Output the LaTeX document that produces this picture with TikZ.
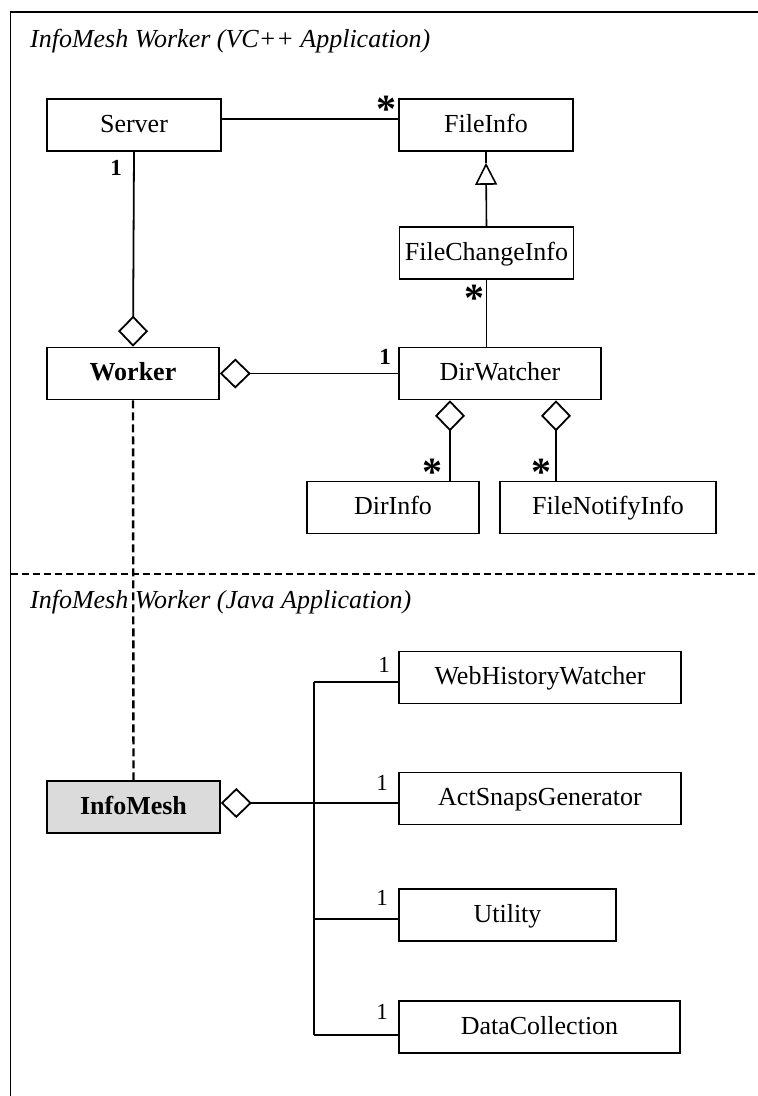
\documentclass[tikz,border=0pt]{standalone}
\usepackage{fontspec}
\setmainfont{Liberation Serif}
\usetikzlibrary{arrows.meta}

\begin{document}
\begin{tikzpicture}[x=1pt, y=-1pt, line width=1.6pt,
    cls/.style={draw, line width=1.6pt, minimum height=52pt, inner sep=0pt, text height=18pt, text depth=4pt, font=\fontsize{26}{30}\selectfont},
    one/.style={font=\fontsize{23}{24}\selectfont\bfseries},
    onelite/.style={font=\fontsize{23}{24}\selectfont},
    many/.style={inner sep=0pt, text height=28pt, text depth=-11pt, font=\fontsize{40}{40}\selectfont\bfseries},
    title/.style={anchor=west, font=\fontsize{26}{30}\selectfont\itshape},
    agg/.style={line width=1.8pt, arrows={Diamond[open, length=31pt, width=30pt]-}},
    bus/.style={line width=2pt}]
    \useasboundingbox (0,0) rectangle (758,1096);
    % frame and split between the two applications
    \draw (10.6,1096) -- (10.6,12) -- (758,12);
    \draw[dash pattern=on 7pt off 4pt] (10.6,574) -- (758,574);
    \node[title] (vcTitle) at (26,41) {InfoMesh Worker (VC++ Application)};
    \node[title] (javaTitle) at (26,602) {InfoMesh Worker (Java Application)};
    % VC++ classes
    \node[cls, minimum width=174pt] (Server) at (134,125) {Server};
    \node[cls, minimum width=174pt] (FileInfo) at (486,125) {FileInfo};
    \node[cls, minimum width=174pt] (FileChangeInfo) at (486.5,253) {FileChangeInfo};
    \node[cls, minimum width=172pt, font=\fontsize{26}{30}\selectfont\bfseries] (Worker) at (133,373.5) {Worker};
    \node[cls, minimum width=202pt] (DirWatcher) at (500,373.5) {DirWatcher};
    \node[cls, minimum width=172pt] (DirInfo) at (393,507.5) {DirInfo};
    \node[cls, minimum width=216pt] (FileNotifyInfo) at (608,507.5) {FileNotifyInfo};
    % Java classes
    \node[cls, minimum width=173pt, fill=black!14, font=\fontsize{26}{30}\selectfont\bfseries] (InfoMesh) at (133.5,807) {InfoMesh};
    \node[cls, minimum width=282pt] (WebHistoryWatcher) at (540,677.5) {WebHistoryWatcher};
    \node[cls, minimum width=282pt] (ActSnapsGenerator) at (540,798.5) {ActSnapsGenerator};
    \node[cls, minimum width=217pt] (Utility) at (507.5,915) {Utility};
    \node[cls, minimum width=281pt] (DataCollection) at (539.5,1027) {DataCollection};
    % associations
    \draw ([yshift=6pt]Server.east) -- ([yshift=6pt]FileInfo.west);
    \draw[agg] (Worker.north) -- (Server.south);
    \draw[agg] (Worker.east) -- (DirWatcher.west);
    \draw (FileChangeInfo.south) -- (FileChangeInfo.south |- DirWatcher.north);
    % generalisation, triangle kept off the box
    \coordinate (tri) at ([yshift=-11pt]FileInfo.south);
    \draw (FileInfo.south) -- (tri);
    \draw[arrows={-Triangle[open, length=22pt, width=22pt]}] (FileChangeInfo.north) -- (tri);
    \coordinate (dl) at ([xshift=-50pt]DirWatcher.south);
    \coordinate (dr) at ([xshift=56pt]DirWatcher.south);
    \draw[agg] (dl) -- (dl |- DirInfo.north);
    \draw[agg] (dr) -- (dr |- FileNotifyInfo.north);
    \draw[line width=2.4pt, dash pattern=on 8pt off 4pt] (Worker.south) -- (InfoMesh.north);
    % multiplicities
    \node[many] (mFileInfo) at (386,108) {*};
    \node[one] (mServer) at (116,168) {1};
    \node[many] (mChange) at (474,297) {*};
    \node[one] (mWatcher) at (385,357) {1};
    \node[many] (mDirInfo) at (432,471) {*};
    \node[many] (mNotify) at (541,471) {*};
    % InfoMesh owns its helpers through one bus
    \coordinate (brW) at (314,682);
    \coordinate (brU) at (314,919);
    \coordinate (brD) at (314,1035);
    \draw[bus] (brW) -- (brD);
    \draw[bus] (brW) -- (brW -| WebHistoryWatcher.west);
    \draw[agg] ([yshift=4pt]InfoMesh.east) -- ([yshift=4pt]InfoMesh.east -| ActSnapsGenerator.west);
    \draw[bus] (brU) -- (brU -| Utility.west);
    \draw[bus] (brD) -- (brD -| DataCollection.west);
    \node[onelite] (mWeb) at (384,665) {1};
    \node[onelite] (mSnaps) at (382,783) {1};
    \node[onelite] (mUtil) at (382,898) {1};
    \node[onelite] (mData) at (382,1012) {1};
\end{tikzpicture}
\end{document}
